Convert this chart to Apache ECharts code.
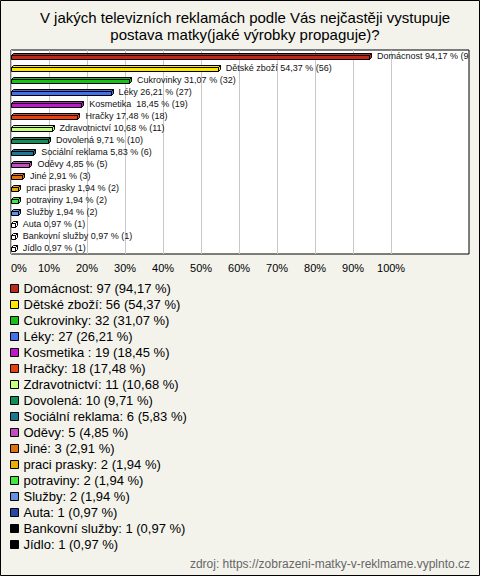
<!DOCTYPE html>
<html>
<head>
<meta charset="utf-8">
<script src="https://cdn.jsdelivr.net/npm/echarts@6/dist/echarts.min.js"></script>
<style>
html,body{margin:0;padding:0;background:#f3f3ec;}
#c{width:480px;height:576px;}
</style>
</head>
<body>
<div id="c"></div>
<script>
const titleText = 'V jakých televizních reklamách podle Vás nejčastěji vystupuje\npostava matky(jaké výrobky propaguje)?';
const sourceText = 'zdroj: https://zobrazeni-matky-v-reklmame.vyplnto.cz';
const categories = ['Domácnost','Dětské zboží','Cukrovinky','Léky','Kosmetika ','Hračky','Zdravotnictví','Dovolená','Sociální reklama','Oděvy','Jiné','praci prasky','potraviny','Služby','Auta','Bankovní služby','Jídlo'];
const counts = [97,56,32,27,19,18,11,10,6,5,3,2,2,2,1,1,1];
const percents = [94.17,54.37,31.07,26.21,18.45,17.48,10.68,9.71,5.83,4.85,2.91,1.94,1.94,1.94,0.97,0.97,0.97];
const xTicks = [0,10,20,30,40,50,60,70,80,90,100];

const legendColors = ['#c0281c','#ffe800','#18c018','#4470e8','#c018c8','#e84010','#c8ff80','#109058','#1c7890','#c050c0','#e07010','#e8b000','#40e840','#6494e0','#2848a8','#000000','#000000'];
const barColors = legendColors.map((c,i)=> counts[i] <= 1 ? '#ffffff' : c);

const fmt = p => p.toFixed(2).replace('.', ',');
const FONT = "'Liberation Sans', Arial, sans-serif";

const chart = echarts.init(document.getElementById('c'), null, {renderer:'svg'});

const GRID = {left:11, top:50, width:458, height:204};
const XMAX = 120.5;
const DEPTH = 2;

function renderBox(params, api){
  const idx = api.value(1);
  const v = api.value(0);
  const s = api.coord([0, idx]);
  const e = api.coord([v, idx]);
  const c = Math.round(s[1]);
  const x0 = Math.round(s[0]) + 0.5;
  const x1 = Math.round(e[0]) + 0.5;
  const yT = c - 1 + 0.5, yB = c + 3 + 0.5;
  const col = barColors[idx];
  const st = {fill: col, stroke:'#000', lineWidth:1};
  return {type:'group', children:[
    {type:'polygon', shape:{points:[[x0,yT],[x0+DEPTH,yT-DEPTH],[x1+DEPTH,yT-DEPTH],[x1,yT]]}, style:st},
    {type:'polygon', shape:{points:[[x1,yT],[x1+DEPTH,yT-DEPTH],[x1+DEPTH,yB-DEPTH],[x1,yB]]}, style:st},
    {type:'rect', shape:{x:x0, y:yT, width:x1-x0, height:yB-yT}, style:st}
  ]};
}

function buildOption(labelWidths){
  return {
    backgroundColor:'#f3f3ec',
    animation:false,
    title:[
      {text:titleText, left:240, top:4, textAlign:'center',
       textStyle:{fontFamily:FONT, fontSize:15, fontWeight:'normal', color:'#000', lineHeight:17}},
      {text:sourceText, right:5, bottom:1,
       textStyle:{fontFamily:FONT, fontSize:12, fontWeight:'normal', color:'#666'}}
    ],
    grid:{left:GRID.left, top:GRID.top, width:GRID.width, height:GRID.height, show:true, backgroundColor:'#ffffff', borderColor:'#000', borderWidth:1, containLabel:false},
    xAxis:{type:'value', min:0, max:XMAX, interval:10,
      axisLine:{show:false}, axisTick:{show:false},
      axisLabel:{fontFamily:FONT, fontSize:11, color:'#000', margin:8, alignMinLabel:'left',
        formatter: v => xTicks.indexOf(v) >= 0 ? v + '%' : ''},
      splitLine:{show:true, lineStyle:{color:['#c8c8c8','#c8c8c8','#c8c8c8','#c8c8c8','#c8c8c8','#c8c8c8','#c8c8c8','#c8c8c8','#c8c8c8','#c8c8c8','#c8c8c8','rgba(0,0,0,0)','rgba(0,0,0,0)','rgba(0,0,0,0)'], width:1}}
    },
    yAxis:{type:'category', inverse:true, data:categories,
      axisLine:{show:false}, axisTick:{show:false}, axisLabel:{show:false}, splitLine:{show:false}},
    legend:{orient:'vertical', left:10, top:282, padding:0, itemWidth:8, itemHeight:8, itemGap:3, icon:'rect',
      data:categories, selectedMode:false,
      itemStyle:{borderColor:'#000', borderWidth:1},
      textStyle:{fontFamily:FONT, fontSize:13, color:'#000'},
      formatter: name => {
        const i = categories.indexOf(name);
        return name + ': ' + counts[i] + ' (' + fmt(percents[i]) + ' %)';
      }
    },
    series:[
      {type:'custom', name:'boxes', renderItem:renderBox, clip:false,
       encode:{x:0, y:1},
       data: percents.map((p,i)=>[p,i]), z:2},
      {type:'bar', name:'labels', barWidth:4, z:3,
       itemStyle:{color:'rgba(0,0,0,0)'},
       data: percents.map((p,i)=>({value:p,
          label: labelWidths ? {width: labelWidths[i], overflow:'truncate', ellipsis:''} : {}})),
       label:{show:true, position:'right', distance:8, fontFamily:FONT, fontSize:9, color:'#111',
         formatter: prm => categories[prm.dataIndex] + ' ' + fmt(percents[prm.dataIndex]) + ' % (' + counts[prm.dataIndex] + ')'}
      },
      {type:'pie', name:'legendpie', radius:[0,0], center:[-100,-100], silent:true,
       label:{show:false}, labelLine:{show:false},
       data: categories.map((n,i)=>({name:n, value:counts[i], itemStyle:{color:legendColors[i]}}))}
    ],
    graphic:[{type:'rect', shape:{x:0.5,y:0.5,width:479,height:575}, style:{fill:null, stroke:'#000', lineWidth:1}, z:100, silent:true}]
  };
}

chart.setOption(buildOption(null));
const rightPx = GRID.left + GRID.width - 1;
const widths = percents.map(p => Math.max(10, rightPx - chart.convertToPixel({gridIndex:0}, [p, 0])[0] - 2));
chart.setOption(buildOption(widths), true);
</script>
</body>
</html>
